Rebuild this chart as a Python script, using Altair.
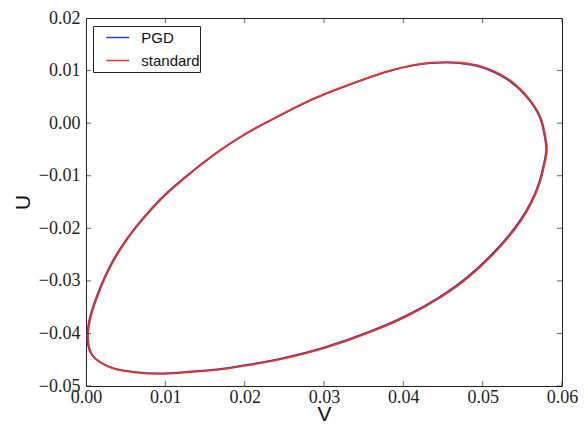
import altair as alt
import pandas as pd

# PGD curve (V, U), going round the loop (closed)
pgd_v = [0.00016, 0.00041, 0.00117, 0.00275, 0.00442, 0.00624, 0.00834, 0.01031, 0.01248, 0.0146,
         0.01687, 0.01907, 0.02122, 0.02284, 0.02882, 0.03521, 0.0380, 0.0413, 0.0434, 0.0455,
         0.0471, 0.0497, 0.0530, 0.0556, 0.0572, 0.0579, 0.0580, 0.0578, 0.05707, 0.05607,
         0.05471, 0.05201, 0.04804, 0.04452, 0.04037, 0.03564, 0.03015, 0.02507, 0.02066, 0.01722,
         0.01268, 0.00933, 0.0060, 0.0034, 0.0018, 0.0007, 0.00024, 0.00016]
pgd_u = [-0.0400, -0.0375, -0.0337, -0.0280, -0.0236, -0.0198, -0.0161, -0.0131, -0.0103, -0.0077,
         -0.0052, -0.0030, -0.0011, 0.0002, 0.0047, 0.0084, 0.0098, 0.0110, 0.0114, 0.0115,
         0.0114, 0.0107, 0.0084, 0.0049, 0.0011, -0.0033, -0.0052, -0.0071, -0.0115, -0.0151,
         -0.0185, -0.0236, -0.0293, -0.0331, -0.0366, -0.0397, -0.0426, -0.0446, -0.0459, -0.0467,
         -0.0473, -0.0476, -0.0473, -0.0466, -0.0455, -0.0440, -0.0421, -0.0400]

# standard curve (V, U)
std_v = [0.00026, 0.00051, 0.00127, 0.00285, 0.00452, 0.00634, 0.00844, 0.01041, 0.01258, 0.0147,
         0.01697, 0.01917, 0.02132, 0.02294, 0.02892, 0.03531, 0.0381, 0.0414, 0.0435, 0.0456,
         0.0472, 0.0498, 0.0531, 0.0557, 0.0573, 0.0580, 0.0581, 0.0579, 0.05717, 0.05617,
         0.05481, 0.05211, 0.04814, 0.04462, 0.04047, 0.03574, 0.03025, 0.02517, 0.02076, 0.01732,
         0.01278, 0.00943, 0.0061, 0.0035, 0.0019, 0.0008, 0.00034, 0.00026]
std_u = [-0.0400, -0.0375, -0.0337, -0.0280, -0.0236, -0.0198, -0.0161, -0.0131, -0.0103, -0.0077,
         -0.0051, -0.0029, -0.0010, 0.0003, 0.0048, 0.0085, 0.0099, 0.0111, 0.0115, 0.0116,
         0.0115, 0.0108, 0.0085, 0.0049, 0.0011, -0.0033, -0.0052, -0.0071, -0.0115, -0.0151,
         -0.0186, -0.0237, -0.0294, -0.0332, -0.0367, -0.0398, -0.0427, -0.0447, -0.0460, -0.0468,
         -0.0474, -0.0477, -0.0474, -0.0467, -0.0456, -0.0441, -0.0421, -0.0400]

series_names = ["PGD", "standard"]
series_colors = ["#2f3fc4", "#e8332a"]

x_ticks = [0.00, 0.01, 0.02, 0.03, 0.04, 0.05, 0.06]
y_ticks = [-0.05, -0.04, -0.03, -0.02, -0.01, 0.00, 0.01, 0.02]
x_domain = [0.0, 0.06]
y_domain = [-0.05, 0.02]

rows = []
for i, (v, u) in enumerate(zip(pgd_v, pgd_u)):
    rows.append({"series": "PGD", "i": i, "V": v, "U": u})
for i, (v, u) in enumerate(zip(std_v, std_u)):
    rows.append({"series": "standard", "i": i, "V": v, "U": u})
df = pd.DataFrame(rows)

xt = pd.DataFrame({"V": x_ticks * 2, "U": [y_domain[0]] * len(x_ticks) + [y_domain[1]] * len(x_ticks)})
yt = pd.DataFrame({"U": y_ticks * 2, "V": [x_domain[0]] * len(y_ticks) + [x_domain[1]] * len(y_ticks)})

xs = alt.Scale(domain=x_domain, nice=False, zero=False)
ys = alt.Scale(domain=y_domain, nice=False, zero=False)

x_axis = alt.Axis(
    values=x_ticks, format=".2f", title="V", tickSize=0, domain=False, grid=False,
    labelFlush=False, labelOverlap=False, labelPadding=2,
    labelFont="Liberation Serif", labelFontSize=18, labelColor="#222",
    titleFont="Liberation Sans", titleFontSize=21, titleFontWeight="normal",
    titleColor="#111", titlePadding=-3)
y_axis = alt.Axis(
    values=y_ticks, format=".2f", title="U", tickSize=0, domain=False, grid=False,
    labelFlush=False, labelOverlap=False, labelPadding=6,
    labelFont="Liberation Serif", labelFontSize=18, labelColor="#222",
    titleFont="Liberation Sans", titleFontSize=21, titleFontWeight="normal",
    titleColor="#111", titlePadding=5)

lines = alt.Chart(df).mark_line(strokeWidth=1.8, interpolate="catmull-rom").encode(
    x=alt.X("V:Q", scale=xs, axis=x_axis),
    y=alt.Y("U:Q", scale=ys, axis=y_axis),
    color=alt.Color("series:N", scale=alt.Scale(domain=series_names, range=series_colors),
                    legend=alt.Legend(title=None, orient="none", legendX=7, legendY=8,
                                      symbolType="M-2,0L2,0", symbolSize=132, symbolStrokeWidth=1.6,
                                      symbolOffset=17.3, clipHeight=23,
                                      labelExpr="datum.label + '\u00a0\u00a0'",
                                      labelFont="Liberation Sans", labelFontSize=15,
                                      labelColor="#111", strokeColor="#222", fillColor="white",
                                      padding=0, rowPadding=0, labelOffset=16, cornerRadius=0)),
    order=alt.Order("i:Q"),
)

tick_x = alt.Chart(xt).mark_tick(orient="vertical", size=10, thickness=1, color="#222", clip=True).encode(
    x=alt.X("V:Q", scale=xs, axis=x_axis),
    y=alt.Y("U:Q", scale=ys, axis=y_axis),
)
tick_y = alt.Chart(yt).mark_tick(orient="horizontal", size=10, thickness=1, color="#222", clip=True).encode(
    x=alt.X("V:Q", scale=xs, axis=x_axis),
    y=alt.Y("U:Q", scale=ys, axis=y_axis),
)

chart = alt.layer(lines, tick_x, tick_y).properties(
    width=476, height=368,
    background="white",
    autosize=alt.AutoSizeParams(type="none"),
    padding={"left": 78, "top": 10, "right": 18, "bottom": 42},
).configure_view(stroke="#222", strokeWidth=1)

chart.save("out.html", embed_options={"renderer": "svg", "actions": False})
